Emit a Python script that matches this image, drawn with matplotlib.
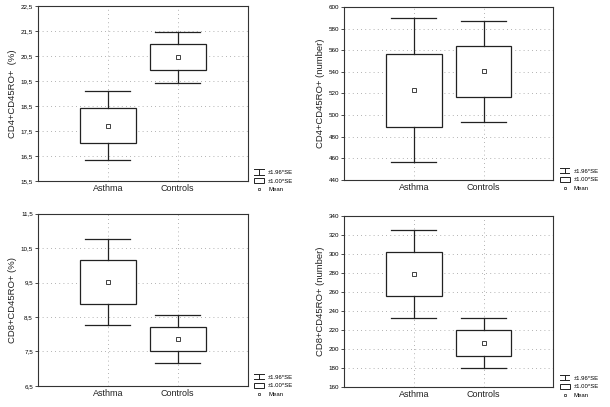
import numpy as np
import matplotlib
matplotlib.use("Agg")
import matplotlib.pyplot as plt
from matplotlib.lines import Line2D
from matplotlib.patches import Rectangle
from matplotlib.legend_handler import HandlerBase
from matplotlib.ticker import FuncFormatter

plt.rcParams["font.family"] = ["Liberation Sans", "DejaVu Sans"]

groups = ["Asthma", "Controls"]

cd4_pct_mean = [17.72, 20.46]
cd4_pct_se = [0.71, 0.52]
cd4_num_mean = [523.0, 540.5]
cd4_num_se = [33.9, 23.8]
cd8_pct_mean = [9.51, 7.865]
cd8_pct_se = [0.64, 0.356]
cd8_num_mean = [278.9, 206.5]
cd8_num_se = [23.5, 13.6]

panels = [
    ("CD4+CD45RO+  (%)", cd4_pct_mean, cd4_pct_se, np.arange(15.5, 22.51, 1.0), True),
    ("CD4+CD45RO+ (number)", cd4_num_mean, cd4_num_se, np.arange(440, 601, 20), False),
    ("CD8+CD45RO+ (%)", cd8_pct_mean, cd8_pct_se, np.arange(6.5, 11.51, 1.0), True),
    ("CD8+CD45RO+ (number)", cd8_num_mean, cd8_num_se, np.arange(160, 341, 20), False),
]

axes_rects = [
    [0.062, 0.555, 0.344, 0.430],
    [0.564, 0.558, 0.343, 0.425],
    [0.062, 0.052, 0.344, 0.423],
    [0.564, 0.049, 0.343, 0.420],
]

LC = "#222222"


class HandlerWhisker(HandlerBase):
    def create_artists(self, legend, orig_handle, xdescent, ydescent,
                       width, height, fontsize, trans):
        cx = width / 2 - xdescent
        y0, y1 = -ydescent, height - ydescent
        arts = [
            Line2D([cx, cx], [y0, y1], color=LC, lw=0.7),
            Line2D([cx - width * 0.45, cx + width * 0.45], [y0, y0], color=LC, lw=0.7),
            Line2D([cx - width * 0.45, cx + width * 0.45], [y1, y1], color=LC, lw=0.7),
        ]
        for a in arts:
            a.set_transform(trans)
        return arts


def comma_fmt(v, pos):
    return f"{v:.1f}".replace(".", ",")


fig = plt.figure(figsize=(6.1, 4.07), dpi=100)

for (ylabel, means, ses, ticks, decimal), rect in zip(panels, axes_rects):
    ax = fig.add_axes(rect)
    means = np.array(means)
    ses = np.array(ses)
    pos = np.arange(1, len(groups) + 1)

    for x, m, s in zip(pos, means, ses):
        # whiskers +-1.96 SE
        lo, hi = m - 1.96 * s, m + 1.96 * s
        ax.plot([x, x], [lo, m - s], color=LC, lw=0.9, zorder=3)
        ax.plot([x, x], [m + s, hi], color=LC, lw=0.9, zorder=3)
        ax.plot([x - 0.32, x + 0.32], [lo, lo], color=LC, lw=0.9, zorder=3)
        ax.plot([x - 0.32, x + 0.32], [hi, hi], color=LC, lw=0.9, zorder=3)
        # box +-1 SE
        ax.add_patch(Rectangle((x - 0.4, m - s), 0.8, 2 * s, facecolor="white",
                               edgecolor=LC, lw=0.9, zorder=2))
    ax.plot(pos, means, linestyle="none", marker="s", markersize=2.5,
            markerfacecolor="white", markeredgecolor=LC, markeredgewidth=0.6, zorder=4)

    ax.set_xlim(0, len(groups) + 1)
    ax.set_ylim(ticks[0], ticks[-1])
    ax.set_xticks(pos)
    ax.set_xticklabels(groups, fontsize=6.5, color="#222222")
    ax.set_yticks(ticks)
    if decimal:
        ax.yaxis.set_major_formatter(FuncFormatter(comma_fmt))
    ax.tick_params(axis="y", labelsize=4.5, length=2, width=0.5, pad=1.5)
    ax.tick_params(axis="x", length=0, pad=2)
    ax.set_ylabel(ylabel, fontsize=6.8, labelpad=3, color="#222222")
    ax.grid(True, color="#999999", linestyle=(0, (1, 4)), lw=0.6)
    ax.set_axisbelow(True)
    for sp in ax.spines.values():
        sp.set_linewidth(0.8)
        sp.set_color("#333333")

    handles = [
        Line2D([], []),
        Rectangle((0, 0), 1, 1, facecolor="white", edgecolor=LC, lw=0.7),
        Line2D([], [], linestyle="none", marker="s", markersize=2,
               markerfacecolor="white", markeredgecolor=LC, markeredgewidth=0.5),
    ]
    ax.legend(handles, ["\u00b11.96*SE", "\u00b11.00*SE", "Mean"],
              handler_map={handles[0]: HandlerWhisker()},
              loc="lower left", bbox_to_anchor=(1.03, -0.065), frameon=False,
              fontsize=4.3, handlelength=1.7, handleheight=1.0,
              handletextpad=0.7, labelspacing=0.5, borderpad=0, borderaxespad=0)

fig.savefig("out.png", dpi=100)
